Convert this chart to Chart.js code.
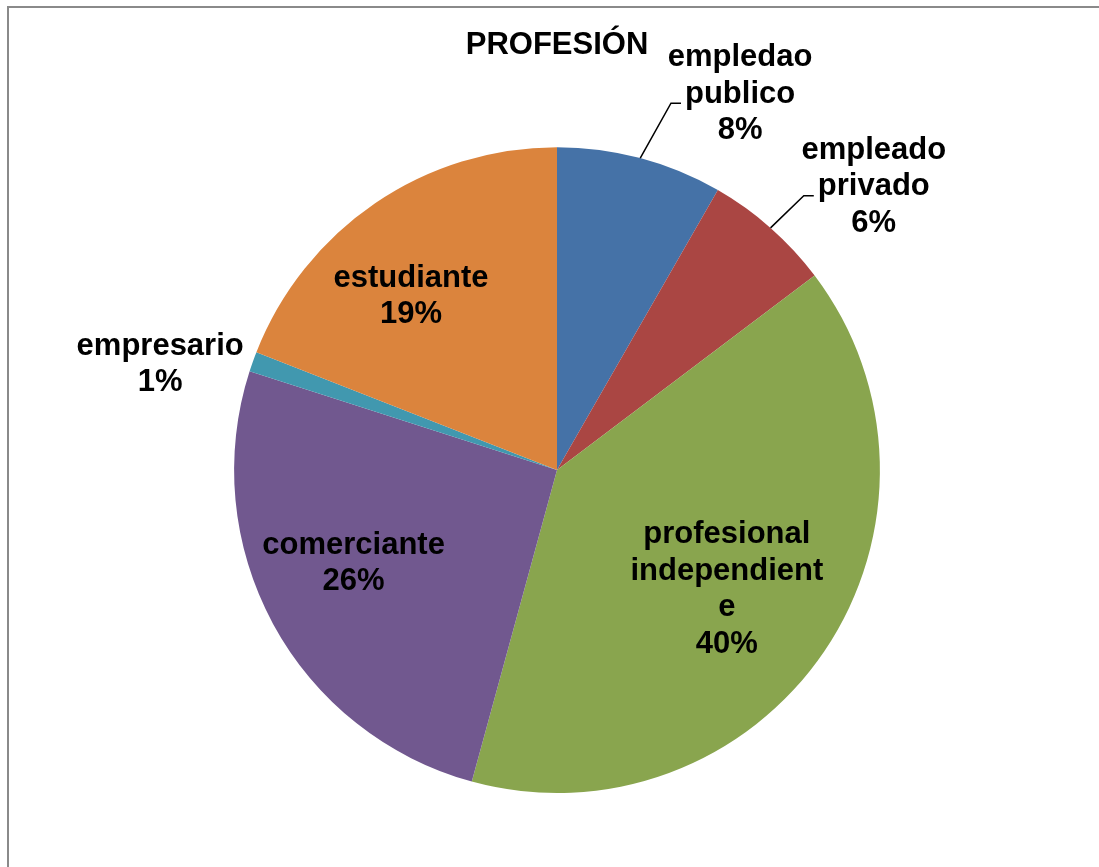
<!DOCTYPE html>
<html>
<head>
<meta charset="utf-8">
<script src="https://cdn.jsdelivr.net/npm/chart.js@4.4.1/dist/chart.umd.min.js"></script>
<style>
  html, body { margin: 0; padding: 0; background: #fff; }
  #wrap { position: relative; width: 1099px; height: 867px; }
</style>
</head>
<body>
<div id="wrap"><canvas id="grafico" width="1099" height="867"></canvas></div>
<script>
// datos
var categorias = ["empledao publico", "empleado privado", "profesional independiente", "comerciante", "empresario", "estudiante"];
var valores = [8.3, 6.4, 39.55, 25.7, 1.0, 19.05];
var colores = ["#4572A7", "#AA4643", "#89A54E", "#71588F", "#4198AF", "#DB843D"];
// como Excel parte las etiquetas en renglones
var renglones = [
    ["empledao", "publico"],
    ["empleado", "privado"],
    ["profesional", "independient", "e"],
    ["comerciante"],
    ["empresario"],
    ["estudiante"]
];

// posicion de cada etiqueta en radios desde el centro, y si lleva linea guia
var posEtiquetas = [
    { fx: 0.567, fy: -1.138, guia: true },
    { fx: 0.981, fy: -0.851, guia: true },
    { fx: 0.526, fy: 0.396 },
    { fx: -0.630, fy: 0.315 },
    { fx: -1.229, fy: -0.300 },
    { fx: -0.452, fy: -0.511 }
];

var fuente = "bold 31px 'Liberation Sans', Arial, sans-serif";
var altoRenglon = 36.5;

var marco = {
    id: "marco",
    beforeDraw: function(chart) {
        var ctx = chart.ctx;
        ctx.save();
        ctx.strokeStyle = "#8a8a8a";
        ctx.lineWidth = 2;
        ctx.beginPath();
        ctx.moveTo(8, chart.height + 5);
        ctx.lineTo(8, 7);
        ctx.lineTo(chart.width + 5, 7);
        ctx.stroke();
        ctx.restore();
    }
};

var etiquetas = {
    id: "etiquetas",
    afterDatasetsDraw: function(chart) {
        var ctx = chart.ctx;
        var meta = chart.getDatasetMeta(0);
        var total = valores.reduce(function(a, b) { return a + b; }, 0);
        ctx.save();
        ctx.font = fuente;
        ctx.fillStyle = "#000";
        ctx.textAlign = "center";
        ctx.textBaseline = "alphabetic";
        meta.data.forEach(function(arc, i) {
            var p = posEtiquetas[i];
            var r = arc.outerRadius;
            var ax = arc.x + p.fx * r;
            var ay = arc.y + p.fy * r;
            var lineas = renglones[i].concat([Math.round(valores[i] / total * 100) + "%"]);
            var n = lineas.length;
            lineas.forEach(function(t, k) {
                ctx.fillText(t, ax, ay + (k - (n - 1) / 2) * altoRenglon);
            });
            if (p.guia) {
                var k = 1;
                var w = ctx.measureText(lineas[k]).width;
                var yl = ay + (k - (n - 1) / 2) * altoRenglon + 0.5;
                var xl = ax - w / 2 - 4;
                var mid = (arc.startAngle + arc.endAngle) / 2;
                ctx.beginPath();
                ctx.strokeStyle = "#000";
                ctx.lineWidth = 1.5;
                ctx.moveTo(arc.x + Math.cos(mid) * r, arc.y + Math.sin(mid) * r);
                ctx.lineTo(xl - 10, yl);
                ctx.lineTo(xl, yl);
                ctx.stroke();
            }
        });
        ctx.restore();
    }
};

new Chart(document.getElementById("grafico"), {
    type: "pie",
    data: {
        labels: categorias,
        datasets: [{
            data: valores,
            backgroundColor: colores,
            borderWidth: 0
        }]
    },
    options: {
        responsive: false,
        animation: false,
        layout: { padding: { top: 0, bottom: 74, left: 100, right: 85 } },
        plugins: {
            legend: { display: false },
            tooltip: { enabled: false },
            title: {
                display: true,
                text: "PROFESIÓN",
                fullSize: false,
                color: "#000",
                font: { family: "'Liberation Sans', Arial, sans-serif", size: 31, weight: "bold" },
                padding: { top: 27, bottom: 83 }
            }
        }
    },
    plugins: [marco, etiquetas]
});
</script>
</body>
</html>
